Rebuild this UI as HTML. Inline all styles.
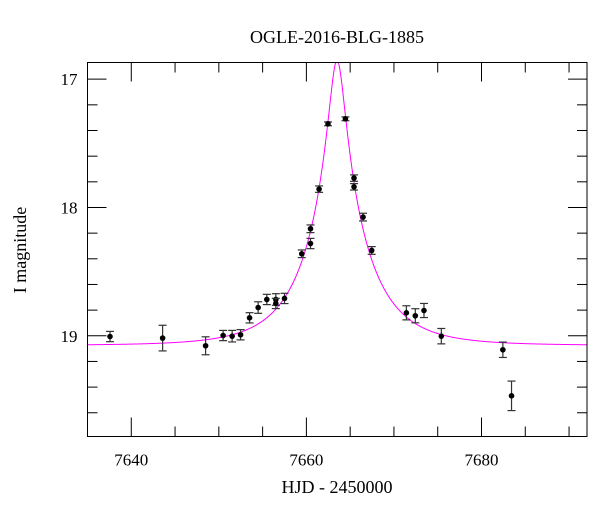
<!DOCTYPE html>
<html><head><meta charset="utf-8"><style>
html,body{margin:0;padding:0;background:#fff;}
svg{display:block;font-family:"Liberation Serif",serif;}
</style></head><body>
<svg id="chart" width="600" height="512" viewBox="0 0 600 512" xmlns="http://www.w3.org/2000/svg">
<text x="337" y="43" text-anchor="middle" font-size="18">OGLE-2016-BLG-1885</text>
<text x="337" y="493" text-anchor="middle" font-size="18">HJD - 2450000</text>
<text transform="translate(26,250) rotate(-90)" text-anchor="middle" font-size="18">I magnitude</text>
<g id="ticks"></g>
<g id="curve"></g>
<g id="points"></g>
<rect x="87.5" y="62.5" width="499.5" height="374" fill="none" stroke="#000" stroke-width="1"/>
</svg>
<script>
const times=[7637.57,7643.58,7648.49,7650.49,7651.52,7652.48,7653.51,7654.49,7655.48,7656.51,7656.51,7657.50,7659.47,7660.47,7660.47,7661.45,7662.47,7664.46,7665.44,7665.44,7666.47,7667.46,7671.42,7672.44,7673.43,7675.41,7682.44,7683.43];
const mags=[19.006,19.018,19.078,18.998,19.003,18.992,18.860,18.780,18.717,18.717,18.748,18.709,18.361,18.281,18.166,17.857,17.348,17.309,17.771,17.839,18.075,18.335,18.821,18.844,18.803,19.003,19.109,19.468];
const errs=[0.04,0.10,0.07,0.04,0.045,0.04,0.04,0.045,0.04,0.045,0.04,0.04,0.03,0.04,0.03,0.025,0.015,0.015,0.025,0.025,0.03,0.03,0.055,0.055,0.055,0.06,0.06,0.115];
const xTicks=[7640,7660,7680];
const yTicks=[17,18,19];
const modelT0=7663.5, modelTE=6.6, modelU0=0.13, modelBase=19.075;

const X0=87.5,X1=587,Y0=62.5,Y1=436.5;
const xMin=7635.0,xMax=7692.05,yMin=16.87,yMax=19.785;
const sx=t=>X0+(t-xMin)/(xMax-xMin)*(X1-X0);
const sy=m=>Y0+(m-yMin)/(yMax-yMin)*(Y1-Y0);
const NS="http://www.w3.org/2000/svg";
function mk(tag,attrs,parent){const e=document.createElementNS(NS,tag);for(const k in attrs)e.setAttribute(k,attrs[k]);parent.appendChild(e);return e;}
const tg=document.getElementById('ticks');
for(let t=7640;t<=7690;t+=5){
  const major=(t%20===0);const L=major?19:10;const x=sx(t);
  const a=mk('line',{x1:x,x2:x,y1:Y1,y2:Y1-L,stroke:'#000'},tg);
  
  
  const b=mk('line',{x1:x,x2:x,y1:Y0,y2:Y0+L,stroke:'#000'},tg);
  
  
}
xTicks.forEach(t=>{
  const e=mk('text',{x:sx(t),y:Y1+29,'text-anchor':'middle','font-size':17},tg);
  e.textContent=t;
  
  
});
for(let i=0;i<=14;i++){
  const m=17+i*0.2; if(m>yMax)break;
  const major=Math.abs(m-Math.round(m))<1e-6;const L=major?19:10;const y=sy(m);
  const a=mk('line',{x1:X0,x2:X0+L,y1:y,y2:y,stroke:'#000'},tg);
  
  
  const b=mk('line',{x1:X1,x2:X1-L,y1:y,y2:y,stroke:'#000'},tg);
  
  
}
yTicks.forEach(m=>{
  const e=mk('text',{x:X0-10,y:sy(m)+6,'text-anchor':'end','font-size':17},tg);
  e.textContent=m;
  
  
});
function amp(u){return (u*u+2)/(u*Math.sqrt(u*u+4));}
let d='';
for(let px=X0;px<=X1;px+=0.5){
  const t=xMin+(px-X0)/(X1-X0)*(xMax-xMin);
  const tau=(t-modelT0)/modelTE;const u=Math.sqrt(tau*tau+modelU0*modelU0);
  let m=modelBase-2.5*Math.log10(amp(u));
  let y=Math.max(Y0,sy(m));
  d+=(d?'L':'M')+px.toFixed(2)+','+y.toFixed(2);
}
const cv=mk('path',{d:d,fill:'none',stroke:'#ff00ff','stroke-width':1},document.getElementById('curve'));


const pg=document.getElementById('points');
times.forEach((t,i)=>{
  const x=sx(t),y=sy(mags[i]),ya=sy(mags[i]-errs[i]),yb=sy(mags[i]+errs[i]);
  const g=mk('g',{},pg);
  
  
  mk('line',{x1:x,x2:x,y1:ya,y2:yb,stroke:'#333','stroke-width':1.2},g);
  mk('line',{x1:x-4,x2:x+4,y1:ya,y2:ya,stroke:'#333','stroke-width':1.2},g);
  mk('line',{x1:x-4,x2:x+4,y1:yb,y2:yb,stroke:'#333','stroke-width':1.2},g);
  mk('circle',{cx:x,cy:y,r:2.8,fill:'#000'},g);
});
</script>
</body></html>
